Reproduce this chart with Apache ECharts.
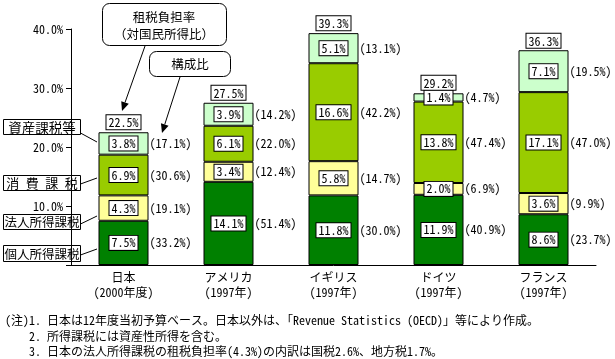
<!DOCTYPE html>
<html><head><meta charset="utf-8">
<script src="https://cdn.jsdelivr.net/npm/echarts@6/dist/echarts.min.js"></script>
<style>html,body{margin:0;padding:0;background:#fff}#c{width:615px;height:359px}</style>
</head><body><div id="c"></div>
<script>
const categories = ['日本\n(2000年度)', 'アメリカ\n(1997年)', 'イギリス\n(1997年)', 'ドイツ\n(1997年)', 'フランス\n(1997年)'];
const personal = [7.5, 14.1, 11.8, 11.9, 8.6];
const corporate = [4.3, 3.4, 5.8, 2.0, 3.6];
const consumption = [6.9, 6.1, 16.6, 13.8, 17.1];
const assets = [3.8, 3.9, 5.1, 1.4, 7.1];
const totals = [22.5, 27.5, 39.3, 29.2, 36.3];
const personalShare = [33.2, 51.4, 30.0, 40.9, 23.7];
const corporateShare = [19.1, 12.4, 14.7, 6.9, 9.9];
const consumptionShare = [30.6, 22.0, 42.2, 47.4, 47.0];
const assetsShare = [17.1, 14.2, 13.1, 4.7, 19.5];
const seriesNames = ['個人所得課税', '法人所得課税', '消費課税', '資産課税等'];
const notes = [
  '(注)1. 日本は12年度当初予算ベース。日本以外は、「Revenue Statistics (OECD)」等により作成。',
  '2. 所得課税には資産性所得を含む。',
  '3. 日本の法人所得課税の租税負担率(4.3%)の内訳は国税2.6%、地方税1.7%。'
];

const MONO = '"Noto Sans Mono CJK JP", "DejaVu Sans Mono", monospace';
const CJK = '"Noto Sans Mono CJK JP", "Noto Sans CJK JP", sans-serif';
const colors = ['#008000', '#FFFF99', '#99CC00', '#CCFFCC'];
const values = [personal, corporate, consumption, assets];
const shares = [personalShare, corporateShare, consumptionShare, assetsShare];

const boxLabel = {
  color: '#000', fontFamily: MONO, fontSize: 12, lineHeight: 13,
  backgroundColor: '#fff', borderColor: '#000', borderWidth: 1, padding: [1, 2, 0, 2]
};

const series = [];
values.forEach((v, i) => {
  series.push({
    name: seriesNames[i], type: 'bar', stack: 'v', barWidth: 50, barGap: '-100%',
    data: v, animation: false, silent: true,
    itemStyle: { color: colors[i], borderColor: '#000', borderWidth: 1 },
    label: {
      show: true, position: 'right', distance: 1, color: '#000',
      fontFamily: MONO, fontSize: 12,
      formatter: p => '(' + shares[i][p.dataIndex].toFixed(1) + '%)'
    }
  });
});
values.forEach((v, i) => {
  series.push({
    name: seriesNames[i] + '_o', type: 'bar', stack: 'o', barWidth: 50, barGap: '-100%',
    data: v, animation: false, silent: true,
    itemStyle: { color: 'rgba(0,0,0,0)', borderWidth: 0 },
    label: Object.assign({ show: true, position: 'inside', formatter: p => p.value.toFixed(1) + '%' }, boxLabel)
  });
});
series.push({
  name: 'total', type: 'scatter', data: totals, symbolSize: 0, animation: false, silent: true,
  itemStyle: { color: 'rgba(0,0,0,0)', opacity: 1 },
  label: Object.assign({ show: true, position: 'top', distance: 3, formatter: p => p.value.toFixed(1) + '%' }, boxLabel)
});

function arrow(x1, y1, x2, y2) {
  const dx = x2 - x1, dy = y2 - y1, L = Math.hypot(dx, dy);
  const ux = dx / L, uy = dy / L, hl = 9, hw = 4;
  const bx = x2 - ux * hl, by = y2 - uy * hl;
  return [
    { type: 'line', shape: { x1, y1, x2: bx, y2: by }, style: { stroke: '#000', lineWidth: 1 } },
    { type: 'polygon', shape: { points: [[x2, y2], [bx - uy * hw, by + ux * hw], [bx + uy * hw, by - ux * hw]] }, style: { fill: '#000' } }
  ];
}
function txt(x, y, text, font, align) {
  return { type: 'text', x, y, style: { text, font, fill: '#000', align: align || 'center', verticalAlign: 'middle', textAlign: align || 'center', textVerticalAlign: 'middle' } };
}
function tbox(x, y, w, h, text, font, leaderTo) {
  const els = [
    { type: 'rect', shape: { x: x + 0.5, y: y + 0.5, width: w, height: h }, style: { fill: '#fff', stroke: '#000', lineWidth: 1 } },
    txt(x + w / 2 + 0.5, y + h / 2 + 1, text, font)
  ];
  if (leaderTo) els.push({ type: 'line', shape: { x1: x + w + 0.5, y1: leaderTo[0], x2: leaderTo[1], y2: leaderTo[2] }, style: { stroke: '#000', lineWidth: 1 } });
  return els;
}

let graphic = [];
graphic.push({ type: 'rect', shape: { x: 102.5, y: 3.5, width: 124, height: 42, r: 7 }, style: { fill: '#fff', stroke: '#000', lineWidth: 1 } });
graphic.push(txt(164, 17, '租税負担率', '12.5px ' + CJK));
graphic.push(txt(164, 34, '（対国民所得比）', '12.5px ' + CJK));
graphic.push({ type: 'rect', shape: { x: 149.5, y: 51.5, width: 81, height: 25, r: 7 }, style: { fill: '#fff', stroke: '#000', lineWidth: 1 } });
graphic.push(txt(190, 64.5, '構成比', '12.5px ' + CJK));
graphic = graphic.concat(arrow(145, 46, 122, 111), arrow(180, 77, 162, 133));
graphic = graphic.concat(tbox(3, 119, 77, 15, '資産課税等', '13.5px ' + CJK, [133, 97, 142]));
graphic = graphic.concat(tbox(3, 175, 77, 15, '消\u2002費\u2002課\u2002税', '13px ' + CJK, [184, 97, 178]));
graphic = graphic.concat(tbox(3, 214, 77, 15, '法人所得課税', '12.5px ' + CJK, [224, 97, 216]));
graphic = graphic.concat(tbox(3, 245, 77, 16, '個人所得課税', '12.5px ' + CJK, [255, 97, 249]));
const noteY = [320, 336, 351], noteX = [5, 29, 29];
notes.forEach((t, i) => graphic.push(txt(noteX[i], noteY[i], t, '12px ' + CJK, 'left')));

const chart = echarts.init(document.getElementById('c'), null, { renderer: 'canvas' });
chart.setOption({
  animation: false,
  backgroundColor: '#fff',
  grid: { left: 71, right: 19, top: 29, bottom: 94 },
  xAxis: {
    type: 'category', data: categories,
    axisLine: { lineStyle: { color: '#000', width: 1 } },
    axisTick: { length: 37, lineStyle: { color: '#000' } },
    axisLabel: { color: '#000', fontFamily: CJK, fontSize: 12, lineHeight: 15, margin: 5 }
  },
  yAxis: {
    type: 'value', min: 0, max: 40, interval: 10,
    axisLine: { show: true, lineStyle: { color: '#000' } },
    axisTick: { show: true, length: 5, lineStyle: { color: '#000' } },
    splitLine: { show: false },
    axisLabel: { color: '#000', fontFamily: MONO, fontSize: 12, margin: 8, formatter: v => v === 0 ? '' : v.toFixed(1) + '%' }
  },
  series,
  graphic
});
</script></body></html>
